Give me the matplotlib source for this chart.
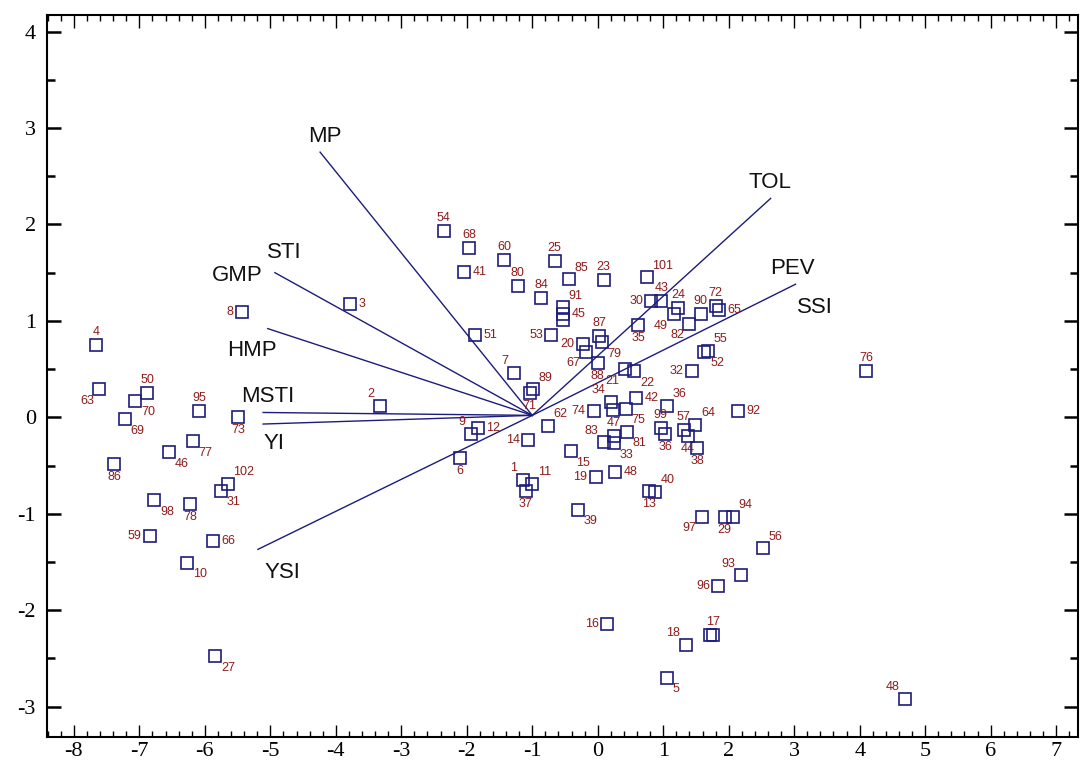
"""
Biplot de componentes principales: genotipos (cuadros) e índices de tolerancia (vectores).
"""

import matplotlib
matplotlib.use("Agg")
import matplotlib.pyplot as plt
from matplotlib.ticker import MultipleLocator

plt.rcParams["axes.unicode_minus"] = False

# -----------------------------
# Datos: genotipos
# -----------------------------
gen_labels = [
    "1", "2", "3", "4", "5", "6", "7", "8", "9", "10",
    "11", "12", "13", "40", "14", "15", "16", "17", "", "18",
    "19", "20", "21", "22", "23", "24", "25", "27", "29", "94",
    "30", "31", "32", "33", "34", "", "35", "36", "36", "37",
    "38", "39", "41", "42", "43", "44", "45", "91", "", "46",
    "47", "48", "48", "49", "50", "51", "52", "55", "53", "54",
    "56", "57", "59", "60", "62", "63", "64", "65", "66", "67",
    "68", "69", "70", "71", "72", "73", "74", "75", "76", "77",
    "78", "79", "80", "81", "82", "83", "84", "85", "86", "87",
    "88", "89", "90", "92", "93", "95", "96", "97", "98", "99",
    "101", "102",
]
gen_x = [
    -1.14, -3.33, -3.78, -7.66, 1.06, -2.10, -1.28, -5.43, -1.94, -6.27,
    -1.00, -1.83, 0.78, 0.87, -1.06, -0.41, 0.14, 1.76, 1.71, 1.34,
    -0.03, -0.23, 0.41, 0.56, 0.09, 1.23, -0.66, -5.84, 1.94, 2.07,
    0.82, -5.75, 1.44, 0.25, 0.20, 0.23, 0.62, 1.05, 1.03, -1.10,
    1.52, -0.30, -2.04, 0.59, 0.97, 1.38, -0.53, -0.53, -0.53, -6.55,
    0.25, 0.27, 4.69, 1.16, -6.88, -1.87, 1.63, 1.69, -0.71, -2.35,
    2.52, 1.31, -6.84, -1.43, -0.76, -7.61, 1.49, 1.85, -5.88, -0.18,
    -1.96, -7.22, -7.06, -1.04, 1.80, -5.49, -0.06, 0.43, 4.10, -6.18,
    -6.22, 0.06, -1.22, 0.45, 1.40, 0.09, -0.86, -0.44, -7.38, 0.02,
    0.00, -0.99, 1.57, 2.14, 2.18, -6.09, 1.84, 1.59, -6.77, 0.96,
    0.75, -5.65,
]
gen_y = [
    -0.65, 0.12, 1.17, 0.75, -2.70, -0.42, 0.46, 1.09, -0.17, -1.51,
    -0.69, -0.11, -0.76, -0.77, -0.24, -0.35, -2.14, -2.26, -2.26, -2.36,
    -0.62, 0.76, 0.50, 0.48, 1.42, 1.13, 1.62, -2.48, -1.03, -1.03,
    1.21, -0.76, 0.48, -0.27, 0.16, 0.08, 0.96, 0.12, -0.17, -0.76,
    -0.32, -0.96, 1.51, 0.20, 1.21, -0.19, 1.07, 1.14, 1.01, -0.36,
    -0.19, -0.57, -2.92, 1.07, 0.25, 0.85, 0.68, 0.69, 0.85, 1.93,
    -1.36, -0.13, -1.23, 1.63, -0.09, 0.29, -0.08, 1.11, -1.28, 0.68,
    1.76, -0.02, 0.17, 0.25, 1.15, 0.00, 0.07, 0.09, 0.48, -0.25,
    -0.90, 0.78, 1.36, -0.15, 0.97, -0.26, 1.24, 1.43, -0.48, 0.84,
    0.56, 0.29, 1.07, 0.07, -1.64, 0.07, -1.75, -1.03, -0.86, -0.11,
    1.45, -0.69,
]
# posición de cada etiqueta respecto del cuadro
gen_pos = [
    "al", "al", "r", "a", "br", "b", "al", "l", "al", "br",
    "ar", "r", "b", "ar", "l", "br", "l", "a", "a", "al",
    "l", "l", "bl", "br", "a", "a", "a", "br", "b", "ar",
    "l", "br", "l", "br", "al", "a", "b", "ar", "b", "b",
    "b", "br", "r", "r", "a", "b", "r", "ar", "r", "br",
    "a", "r", "al", "bl", "a", "r", "br", "ar", "l", "a",
    "ar", "a", "l", "a", "ar", "bl", "ar", "r", "r", "bl",
    "a", "br", "br", "b", "a", "b", "l", "br", "a", "br",
    "b", "br", "a", "br", "bl", "al", "a", "ar", "b", "a",
    "b", "ar", "a", "r", "al", "a", "l", "bl", "br", "a",
    "ar", "ar",
]

# -----------------------------
# Datos: vectores de índices
# -----------------------------
origen = (-1.0, 0.02)
vec_x = [-4.24, -4.93, -5.04, -5.11, -5.11, -5.19, 2.64, 3.02]
vec_y = [2.75, 1.50, 0.92, 0.05, -0.07, -1.37, 2.27, 1.38]
ind_labels = ["MP", "STI", "GMP", "HMP", "MSTI", "YI", "YSI", "TOL", "PEV", "SSI"]
ind_x = [-4.17, -4.78, -5.51, -5.28, -5.04, -4.95, -4.82, 2.63, 2.98, 3.31]
ind_y = [2.91, 1.71, 1.47, 0.69, 0.22, -0.27, -1.61, 2.44, 1.54, 1.14]

xticks = list(range(-8, 8))
yticks = list(range(-3, 5))

# offsets de etiquetas (puntos) y alineación
OFF = {
    "a": (0, 5, "center", "bottom"),
    "b": (0, -5, "center", "top"),
    "r": (6, 0, "left", "center"),
    "l": (-6, 0, "right", "center"),
    "ar": (4, 4, "left", "bottom"),
    "al": (-4, 4, "right", "bottom"),
    "br": (4, -4, "left", "top"),
    "bl": (-4, -4, "right", "top"),
}

AZUL = "#1c1c7c"
ROJO = "#8e1b1b"

fig = plt.figure(figsize=(10.81, 7.61), dpi=100)
ax = fig.add_axes([0.0435, 0.031, 0.9535, 0.949])

# vectores
for vx, vy in zip(vec_x, vec_y):
    ax.plot([vx, origen[0]], [vy, origen[1]], color=AZUL, lw=1.0)

for t, x, y in zip(ind_labels, ind_x, ind_y):
    ax.text(x, y, t, fontsize=16, family="Liberation Sans", color="#111111",
            ha="center", va="center")

# genotipos
ax.plot(gen_x, gen_y, linestyle="none", marker="s", markersize=8,
        markerfacecolor="none", markeredgecolor=AZUL, markeredgewidth=1.2)

for t, x, y, p in zip(gen_labels, gen_x, gen_y, gen_pos):
    if not t:
        continue
    dx, dy, ha, va = OFF[p]
    ax.annotate(t, (x, y), xytext=(dx, dy), textcoords="offset points",
                fontsize=9, family="Liberation Sans", color=ROJO, ha=ha, va=va)

ax.set_xlim(-8.41, 7.33)
ax.set_ylim(-3.32, 4.17)
ax.set_xticks(xticks)
ax.set_yticks(yticks)
ax.xaxis.set_minor_locator(MultipleLocator(0.2))
ax.yaxis.set_minor_locator(MultipleLocator(0.5))
ax.tick_params(axis="x", which="major", direction="in", length=9, width=1,
               top=True, labelsize=16, pad=3)
ax.tick_params(axis="x", which="minor", direction="in", length=4, width=1, top=True)
ax.tick_params(axis="y", which="major", direction="in", length=10, width=1.8,
               right=True, labelsize=16, pad=8)
ax.tick_params(axis="y", which="minor", direction="in", length=6, width=1.8, right=True)
for lab in ax.get_xticklabels() + ax.get_yticklabels():
    lab.set_family("Liberation Serif")
for s in ax.spines.values():
    s.set_linewidth(1.5)

fig.savefig("out.png", dpi=100)
